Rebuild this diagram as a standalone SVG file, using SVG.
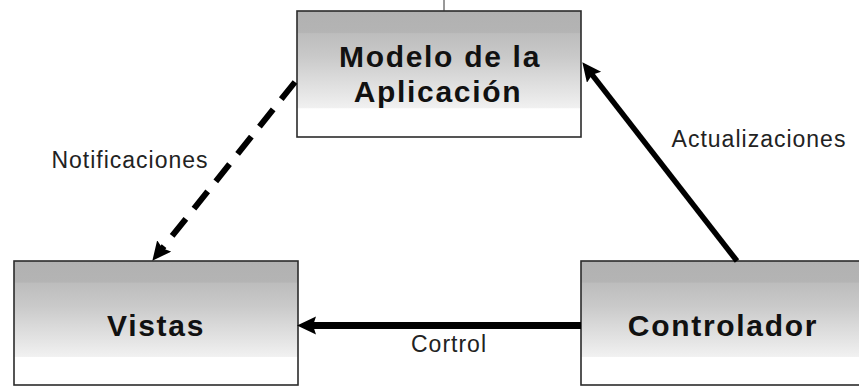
<svg xmlns="http://www.w3.org/2000/svg" width="859" height="387" viewBox="0 0 859 387">
  <defs>
    <linearGradient id="boxFill" x1="0" y1="0" x2="0" y2="1">
      <stop offset="0" stop-color="#b1b1b1"/>
      <stop offset="0.17" stop-color="#b4b4b4"/>
      <stop offset="0.18" stop-color="#bdbdbd"/>
      <stop offset="0.36" stop-color="#c9c9c9"/>
      <stop offset="0.52" stop-color="#d9d9d9"/>
      <stop offset="0.66" stop-color="#e6e6e6"/>
      <stop offset="0.77" stop-color="#f1f1f1"/>
      <stop offset="0.775" stop-color="#ffffff"/>
      <stop offset="1" stop-color="#ffffff"/>
    </linearGradient>
    <marker id="head" markerUnits="userSpaceOnUse" markerWidth="20" markerHeight="20" refX="8" refY="9" orient="auto">
      <path d="M0,0 L19,9 L0,18 L3,9 Z" fill="#000"/>
    </marker>
  </defs>
  <style>
    .box { fill: url(#boxFill); stroke: #2b2b2b; stroke-width: 1.6; }
    .title { font-family: "Liberation Sans", Arial, sans-serif; font-weight: bold; font-size: 30px; letter-spacing: 1.7px; fill: #111; text-anchor: middle; }
    .label { font-family: "Liberation Sans", Arial, sans-serif; font-size: 23px; letter-spacing: 1px; fill: #222; text-anchor: middle; }
    .link { fill: none; stroke: #000; marker-end: url(#head); }
  </style>
  <rect width="859" height="387" fill="#ffffff"/>

  <g id="modelo">
    <rect class="box" x="297" y="11" width="284" height="126"/>
    <text class="title" x="440" y="67">Modelo de la</text>
    <text class="title" x="438" y="102">Aplicación</text>
  </g>

  <g id="vistas">
    <rect class="box" x="14" y="261" width="284" height="124"/>
    <text class="title" x="156" y="336">Vistas</text>
  </g>

  <g id="controlador">
    <rect class="box" x="581" y="261" width="290" height="124"/>
    <text class="title" x="723" y="336">Controlador</text>
  </g>

  <g id="connectors">
    <line x1="444" y1="0" x2="444" y2="11" stroke="#333" stroke-width="1"/>
    <!-- model notifies the views -->
    <line class="link" x1="295" y1="82" x2="159.2" y2="252.2" stroke-width="6" stroke-dasharray="22 13"/>
    <!-- controller updates the model -->
    <line class="link" x1="737" y1="261" x2="589.1" y2="70.9" stroke-width="5.5"/>
    <!-- controller drives the views -->
    <line class="link" x1="581" y1="325.5" x2="308" y2="325.5" stroke-width="7"/>
    <text class="label" x="130" y="168">Notificaciones</text>
    <text class="label" x="759" y="147">Actualizaciones</text>
    <text class="label" x="449" y="352">Cortrol</text>
  </g>
</svg>
